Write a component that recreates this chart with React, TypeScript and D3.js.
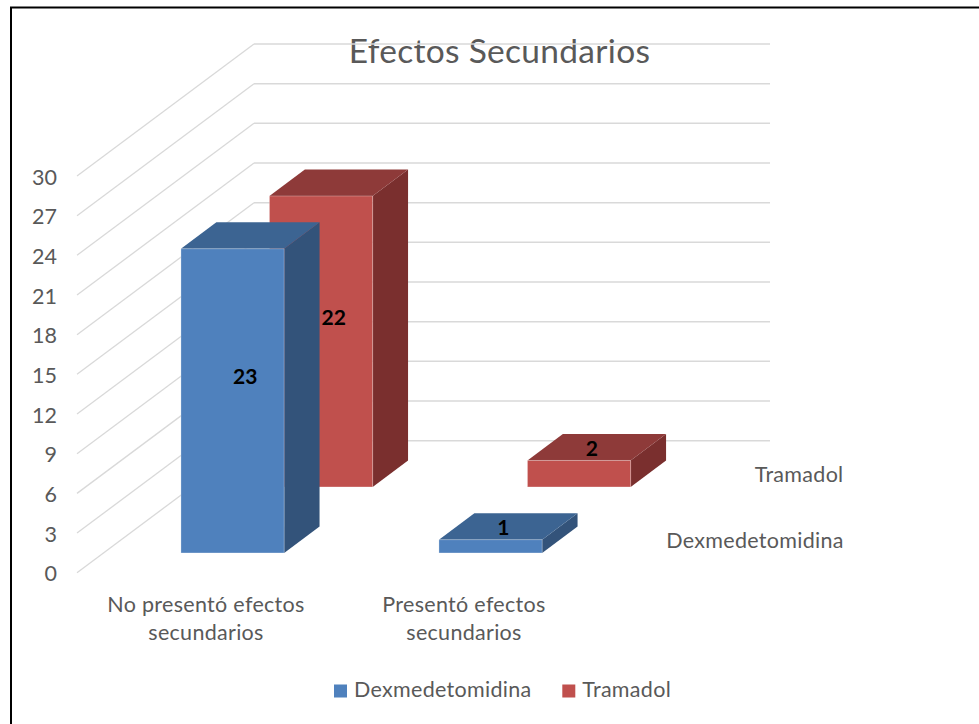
import React from 'react'
import * as d3 from 'd3'

const categories = ['No presentó efectos secundarios', 'Presentó efectos secundarios']
const categoryLines = [['No presentó efectos', 'secundarios'], ['Presentó efectos', 'secundarios']]
const seriesNames = ['Dexmedetomidina', 'Tramadol']
const dexValues = [23, 1]
const tramValues = [22, 2]
const yTicks = [0, 3, 6, 9, 12, 15, 18, 21, 24, 27, 30]

const W = 979
const H = 724
const FONT = 'Lato, "Open Sans", sans-serif'
const TEXT = '#595959'
const GRID = '#d9d9d9'
const FS = 21.5
const LS = 0.3

// oblique depth offset (full depth of the plot box)
const DX = 177
const DY = -132

const colors = {
  Dexmedetomidina: { front: '#4f81bd', top: '#3c6492', side: '#33537a' },
  Tramadol: { front: '#c0504d', top: '#8e3a39', side: '#7a2f2e' },
}

export default function App() {
  const x = d3.scaleBand<string>().domain(categories).range([77, 593]).paddingInner(0.6).paddingOuter(0.3)
  const depth = d3.scaleBand<string>().domain(seriesNames).range([0, 1]).paddingInner(0.6).paddingOuter(0.3)
  const y = d3.scaleLinear().domain([0, 30]).range([572.7, 176])

  const P = (px: number, v: number, d: number): [number, number] => [px + d * DX, y(v) + d * DY]
  const poly = (pts: [number, number][]) => pts.map(p => p.join(',')).join(' ')

  const valuesBySeries: Record<string, number[]> = {
    Dexmedetomidina: dexValues,
    Tramadol: tramValues,
  }

  // back series first so front series covers it
  const drawOrder = [...seriesNames].reverse()

  const bars: JSX.Element[] = []
  const labels: JSX.Element[] = []
  drawOrder.forEach(s => {
    const d0 = depth(s)!
    const d1 = d0 + depth.bandwidth()
    const dc = (d0 + d1) / 2
    const c = colors[s as keyof typeof colors]
    categories.forEach((cat, i) => {
      const v = valuesBySeries[s][i]
      const x0 = x(cat)!
      const x1 = x0 + x.bandwidth()
      bars.push(
        <g key={s + cat}>
          <polygon points={poly([P(x1, 0, d0), P(x1, 0, d1), P(x1, v, d1), P(x1, v, d0)])} fill={c.side} />
          <polygon points={poly([P(x0, v, d0), P(x1, v, d0), P(x1, v, d1), P(x0, v, d1)])} fill={c.top} />
          <polygon
            points={poly([P(x0, 0, d0), P(x1, 0, d0), P(x1, v, d0), P(x0, v, d0)])}
            fill={c.front}
            stroke="rgba(255,255,255,0.35)"
            strokeWidth={0.8}
          />
        </g>
      )
      const tall = v > 5
      const [lx, ly] = P((x0 + x1) / 2, tall ? v * 0.54 : v, dc)
      labels.push(
        <text
          key={'l' + s + cat}
          x={lx - 5}
          y={ly}
          dominantBaseline="central"
          textAnchor="middle"
          fontFamily={FONT}
          fontWeight="bold"
          fontSize={21}
          fill="#000"
        >
          {v}
        </text>
      )
    })
  })

  const xEnd = 593

  return (
    <svg width={W} height={H} style={{ position: 'absolute', left: 0, top: 0, background: '#fff' }}>
      <rect x={0} y={0} width={W} height={H} fill="#fff" />
      {/* outer frame (only left and top edges are visible) */}
      <path d={`M11,${H + 5}V7.5H${W + 5}`} fill="none" stroke="#000" strokeWidth={2} />

      <text x={499.5} y={63} textAnchor="middle" fontFamily={FONT} fontSize={33.5} letterSpacing={0.3} fill={TEXT}>
        Efectos Secundarios
      </text>

      {/* gridlines: left wall diagonals and back wall */}
      {yTicks.map(t => {
        const [bx, by] = P(77, t, 1)
        const [ex] = P(xEnd, t, 1)
        return (
          <g key={'g' + t}>
            <line x1={77} y1={y(t)} x2={bx} y2={by} stroke={GRID} strokeWidth={1.3} />
            <line x1={bx} y1={by} x2={ex} y2={by} stroke={GRID} strokeWidth={1.5} />
          </g>
        )
      })}

      {yTicks.map(t => (
        <text key={'t' + t} x={57} y={y(t) + 8.5} textAnchor="end" fontFamily={FONT} fontSize={FS} fill={TEXT}>
          {t}
        </text>
      ))}

      {bars}
      {labels}

      {/* category labels */}
      {categories.map((cat, i) => {
        const cx = x(cat)! + x.bandwidth() / 2
        return (
          <text key={'c' + cat} textAnchor="middle" fontFamily={FONT} fontSize={FS} letterSpacing={LS} fill={TEXT}>
            {categoryLines[i].map((ln, j) => (
              <tspan key={j} x={cx} y={y(0) + 39 + j * 28}>
                {ln}
              </tspan>
            ))}
          </text>
        )
      })}

      {/* depth axis labels */}
      {seriesNames.map(s => {
        const [sx, sy] = P(xEnd, 0, depth(s)! + depth.bandwidth() / 2)
        return (
          <text key={'s' + s} x={sx + 29} y={sy + 8.6} fontFamily={FONT} fontSize={FS} letterSpacing={LS} fill={TEXT}>
            {s}
          </text>
        )
      })}

      {/* legend */}
      {seriesNames.map((s, i) => {
        const lx = 334 + i * 228.3
        return (
          <g key={'lg' + s}>
            <rect x={lx} y={684.5} width={13} height={13} fill={colors[s as keyof typeof colors].front} />
            <text x={lx + 20} y={697.3} fontFamily={FONT} fontSize={FS} letterSpacing={LS} fill={TEXT}>
              {s}
            </text>
          </g>
        )
      })}
    </svg>
  )
}
